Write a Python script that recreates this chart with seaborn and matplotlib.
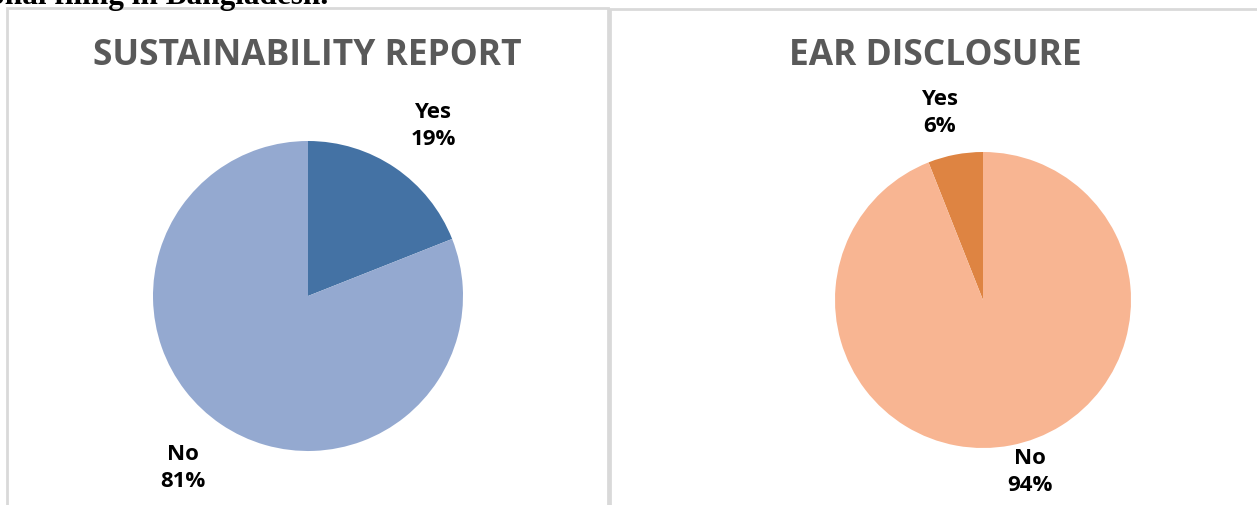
import matplotlib
matplotlib.use("Agg")
import matplotlib.pyplot as plt
import seaborn as sns

sns.set_theme(style="white")
plt.rcParams['font.family'] = ['Open Sans', 'DejaVu Sans']

# ---- data ----
titles = ["SUSTAINABILITY REPORT", "EAR DISCLOSURE"]
categories = ["Yes", "No"]
sustain_values = [19, 81]
ear_values = [6, 94]
caption = "onal filing in Bangladesh."

sustain_colors = ["#4472A4", "#94A9D0"]
ear_colors = ["#DE8442", "#F8B592"]

W, H = 1257, 505
fig = plt.figure(figsize=(W / 100, H / 100), dpi=100)
fig.patch.set_facecolor("white")

def px_axes(x0, y0, x1, y1):
    return fig.add_axes([x0 / W, 1 - y1 / H, (x1 - x0) / W, (y1 - y0) / H])

bg = fig.add_axes([0, 0, 1, 1])
bg.set_xlim(0, W)
bg.set_ylim(H, 0)
bg.axis("off")

border_c = "#D9D9D9"
bg.plot([7, 7, 608, 608], [H + 5, 8, 8, H + 5], color=border_c, lw=2, solid_joinstyle="miter")
bg.plot([610, 610, W + 5], [H + 5, 9, 9], color=border_c, lw=2, solid_joinstyle="miter")

# cropped caption text at top (cut off in the reference as well)
bg.text(328, 4, caption, fontsize=22.5, fontweight="bold", family="Liberation Serif",
        color="black", ha="right", va="baseline")

title_kw = dict(fontsize=25.5, fontweight="bold", color="#595959", ha="center", va="center")
bg.text(307, 56, titles[0], **title_kw)
bg.text(935, 56, titles[1], **title_kw)

def draw_pie(cx, cy, r, values, colors, counterclock):
    ax = px_axes(cx - r, cy - r, cx + r, cy + r)
    ax.pie(values, colors=colors, startangle=90, counterclock=counterclock,
           radius=1, wedgeprops=dict(linewidth=0))
    ax.set_xlim(-1, 1)
    ax.set_ylim(-1, 1)
    ax.set_aspect("equal")
    ax.axis("off")
    return ax

draw_pie(308, 296, 155, sustain_values, sustain_colors, False)
draw_pie(983, 300, 148, ear_values, ear_colors, True)

lab_kw = dict(fontsize=16, fontweight="bold", color="black", ha="center",
              va="center", linespacing=1.35)
bg.text(433, 126, f"{categories[0]}\n{sustain_values[0]}%", **lab_kw)
bg.text(183, 468, f"{categories[1]}\n{sustain_values[1]}%", **lab_kw)
bg.text(940, 113, f"{categories[0]}\n{ear_values[0]}%", **lab_kw)
bg.text(1030, 472, f"{categories[1]}\n{ear_values[1]}%", **lab_kw)

fig.savefig("out.png", dpi=100, facecolor="white")
